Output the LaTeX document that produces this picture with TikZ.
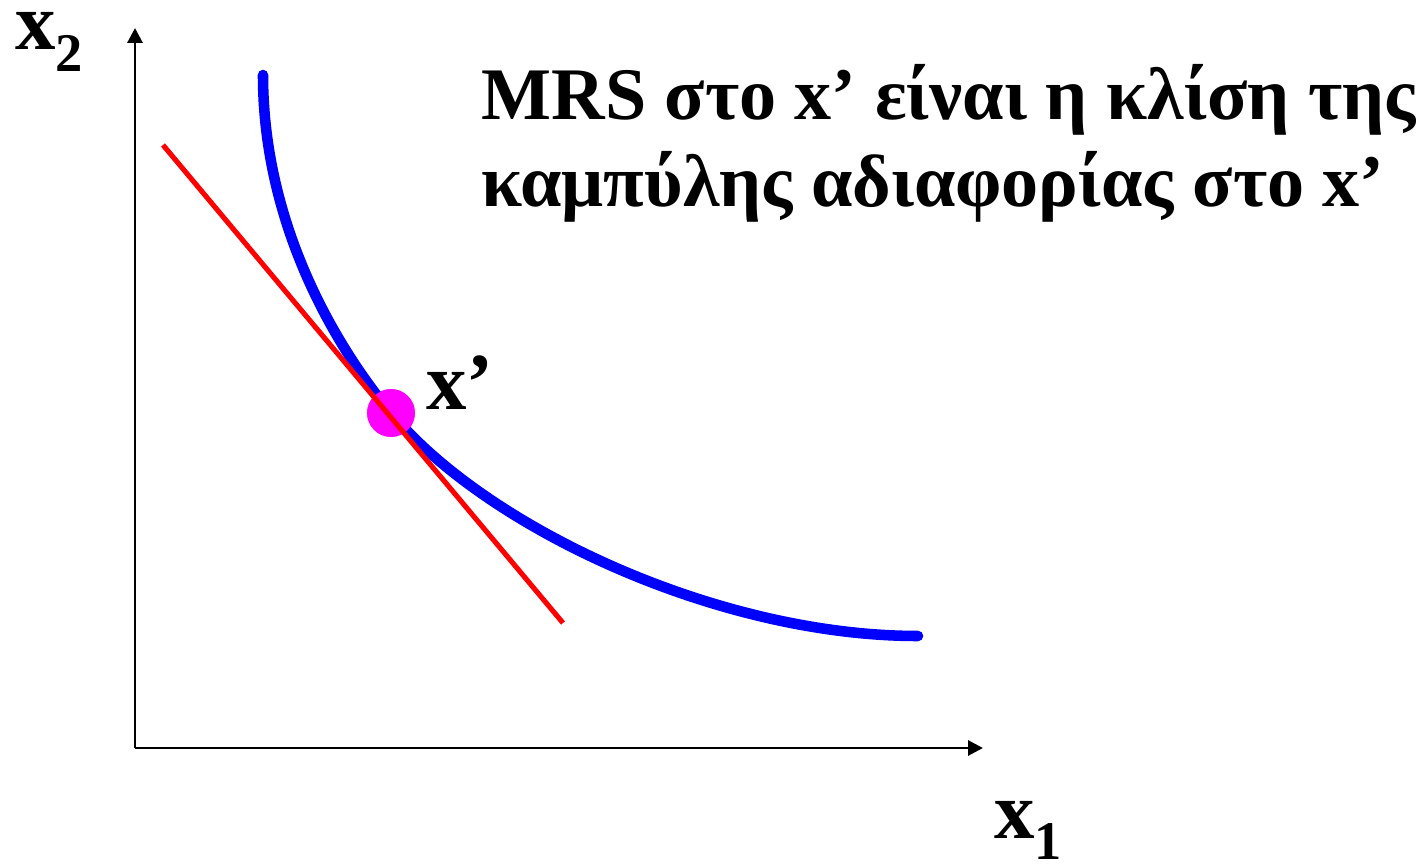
\documentclass[tikz,border=0pt]{standalone}
\usepackage{fontspec}
\setmainfont{Liberation Serif}
\usetikzlibrary{arrows.meta}
\definecolor{ptmagenta}{RGB}{255,0,255}
\definecolor{ptblue}{RGB}{0,0,255}
\definecolor{ptred}{RGB}{255,0,0}

\begin{document}
\begin{tikzpicture}[x=0.02cm, y=-0.02cm, line width=1.7pt,
	axis/.style={-{Triangle[length=8.5pt, width=8.5pt]}},
	lbl/.style={font=\fontsize{46}{50}\selectfont\bfseries, inner sep=0pt, anchor=base west},
	mrs/.style={font=\fontsize{42.2}{50}\selectfont\bfseries, inner sep=0pt, anchor=base west}]
	\useasboundingbox (0,0) rectangle (1426,864);

	% Axes
	\coordinate (O) at (135,748);
	\coordinate (ytop) at (135,28);
	\coordinate (xend) at (983,748);
	\draw[axis] (O) -- (ytop);
	\draw[axis] (O) -- (xend);
	\node[lbl] (x2) at (14,50) {x\smash{\raisebox{-12.5pt}{\fontsize{31}{34}\selectfont 2}}};
	\node[lbl] (x1) at (993,838) {x\smash{\raisebox{-12.5pt}{\fontsize{31}{34}\selectfont 1}}};

	% Indifference curve, point x' and tangent
	\coordinate (c0) at (263,75);
	\coordinate (c1) at (918,636);
	\coordinate (ta) at (163,145);
	\coordinate (tb) at (563,623);
	\node[circle, fill=ptmagenta, minimum size=27.2pt, inner sep=0pt] (xp) at (391,413) {};
	\draw[ptblue, line width=6pt, line cap=round] (c0) .. controls (263,225) and (336,347) .. (xp.center)
		.. controls (487,528) and (718,636) .. (c1);
	\fill[ptmagenta] (xp) circle (13.6pt);
	\draw[ptred, line width=2.9pt] (ta) -- (tb);
	\node[lbl] (xplbl) at (425,410) {x’};

	% Text
	\node[mrs] (mrs1) at (480,120) {MRS στο x’ είναι η κλίση της};
	\node[mrs] (mrs2) at (480,207) {καμπύλης αδιαφορίας στο x’};
\end{tikzpicture}
\end{document}
